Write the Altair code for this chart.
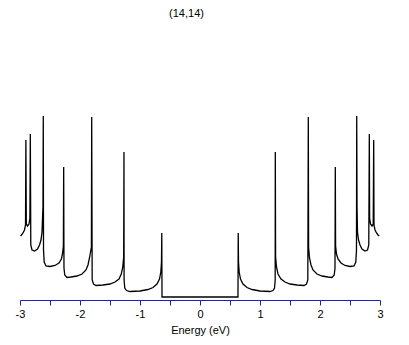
import altair as alt
import pandas as pd

# Density of states of a (14,14) nanotube (arbitrary units)
energy_left = [-2.992, -2.975, -2.95, -2.925, -2.908, -2.902, -2.895, -2.875, -2.85, -2.835,
               -2.828, -2.82, -2.80, -2.758, -2.708, -2.675, -2.65, -2.633, -2.617, -2.612,
               -2.608, -2.597, -2.567, -2.50, -2.417, -2.35, -2.31, -2.292, -2.277, -2.272,
               -2.267, -2.254, -2.217, -2.15, -2.05, -1.967, -1.90, -1.867, -1.842, -1.81,
               -1.805, -1.797, -1.775, -1.733, -1.617, -1.50, -1.417, -1.35, -1.312, -1.287,
               -1.272, -1.267, -1.265, -1.254, -1.225, -1.167, -1.0, -0.867, -0.783, -0.717,
               -0.675, -0.653, -0.642, -0.637, -0.633]
dos_left = [6.4, 6.5, 6.7, 7.0, 7.5, 16.0, 7.6, 7.4, 7.6, 8.2,
            16.6, 5.5, 5.0, 4.9, 5.1, 5.5, 6.0, 6.8, 9.4, 18.4,
            5.0, 3.8, 3.4, 3.35, 3.45, 3.7, 4.1, 4.6, 5.4, 13.3,
            3.2, 2.5, 2.25, 2.3, 2.4, 2.6, 3.0, 3.5, 4.2, 5.3,
            18.3, 2.0, 1.6, 1.45, 1.5, 1.6, 1.8, 2.1, 2.6, 3.3,
            4.3, 14.8, 2.0, 1.2, 0.95, 0.85, 0.9, 1.05, 1.25, 1.6,
            2.1, 2.8, 3.8, 6.7, 0.3]

energy_right = [0.633, 0.637, 0.642, 0.653, 0.675, 0.717, 0.783, 0.867, 1.0, 1.167,
                1.217, 1.242, 1.253, 1.255, 1.26, 1.275, 1.30, 1.35, 1.417, 1.50,
                1.617, 1.733, 1.775, 1.797, 1.805, 1.81, 1.825, 1.85, 1.883, 1.95,
                2.033, 2.133, 2.20, 2.237, 2.25, 2.255, 2.26, 2.275, 2.30, 2.35,
                2.417, 2.50, 2.567, 2.597, 2.608, 2.612, 2.617, 2.625, 2.642, 2.667,
                2.70, 2.75, 2.792, 2.813, 2.822, 2.827, 2.842, 2.867, 2.887, 2.895,
                2.90, 2.917, 2.942, 2.967, 2.987]
dos_right = [0.3, 6.7, 3.8, 2.8, 2.1, 1.6, 1.25, 1.05, 0.9, 0.85,
             0.95, 1.2, 2.0, 14.8, 4.3, 3.3, 2.6, 2.1, 1.8, 1.6,
             1.5, 1.45, 1.6, 2.0, 18.3, 5.3, 4.2, 3.5, 3.0, 2.6,
             2.4, 2.3, 2.25, 2.5, 3.2, 13.3, 5.4, 4.6, 4.1, 3.7,
             3.45, 3.35, 3.4, 3.8, 5.0, 18.4, 9.4, 6.8, 6.0, 5.5,
             5.1, 4.9, 5.0, 5.5, 16.6, 8.2, 7.6, 7.4, 7.6, 16.0,
             7.5, 7.0, 6.7, 6.5, 6.4]

tick_values = [-3, -2.5, -2, -1.5, -1, -0.5, 0, 0.5, 1, 1.5, 2, 2.5, 3]
chart_title = "(14,14)"
x_title = "Energy (eV)"

energy = energy_left + energy_right
dos = dos_left + dos_right
df = pd.DataFrame({"E": energy, "D": dos, "i": list(range(len(energy)))})

FONT = "Liberation Sans"
BLUE = "#2020C0"

line = alt.Chart(df).mark_line(color="black", strokeWidth=1.3).encode(
    x=alt.X("E:Q",
            scale=alt.Scale(domain=[-3, 3], nice=False, zero=False),
            axis=alt.Axis(values=tick_values,
                          labelExpr="datum.value % 1 == 0 ? '' + datum.value : ''",
                          title=x_title, grid=False,
                          domainColor=BLUE, tickColor=BLUE, domainWidth=1, tickWidth=1,
                          tickSize=5, labelFlush=False, labelPadding=3,
                          labelFont=FONT, labelFontSize=11, labelColor="black",
                          titleFont=FONT, titleFontSize=11, titleFontWeight="normal",
                          titleColor="black", titlePadding=5)),
    y=alt.Y("D:Q", scale=alt.Scale(domain=[0, 28], nice=False), axis=None),
    order="i:Q",
)

title_df = pd.DataFrame({"t": [chart_title]})
title = alt.Chart(title_df).mark_text(
    font=FONT, fontSize=11, color="black", align="center", baseline="top"
).encode(
    text="t:N", x=alt.value(166.5), y=alt.value(-12)
)

chart = alt.layer(line, title).properties(
    width=360, height=280,
    autosize=alt.AutoSizeParams(type="none"),
    padding={"left": 12, "top": 12, "right": 21, "bottom": 37},
).configure_view(strokeWidth=0)

chart.save("out.html", embed_options={"renderer": "svg", "actions": False})
